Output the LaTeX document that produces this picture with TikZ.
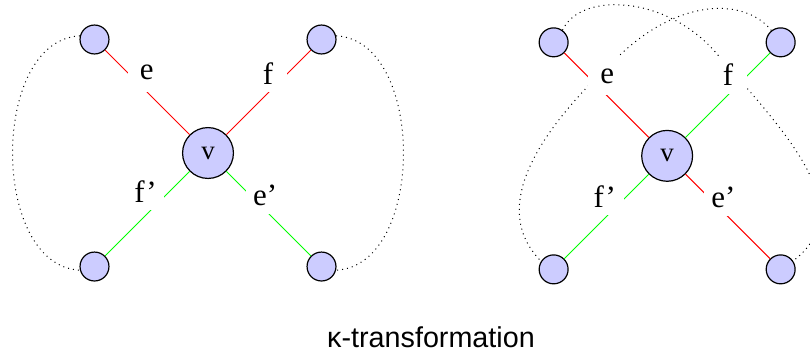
\documentclass[tikz,border=0pt]{standalone}
\usepackage{fontspec}
\setmainfont{Liberation Serif}
\newfontfamily\capfont{Liberation Sans}

\begin{document}
\begin{tikzpicture}[
  vtx/.style={circle, draw, line width=0.6pt, fill=blue!20, inner sep=0pt, minimum size=14.5pt},
  ctr/.style={vtx, minimum size=25.5pt, font=\fontsize{13.5}{15}\selectfont},
  lbl/.style={fill=white, text=black, inner sep=0pt, minimum size=19pt, font=\fontsize{15.5}{17}\selectfont},
  redge/.style={red, line width=0.5pt},
  gedge/.style={green, line width=0.5pt},
  loopline/.style={dotted, line width=0.5pt}
]
\useasboundingbox (-3.665,-3.577) rectangle (10.607,2.696);
\clip (-3.665,-3.577) rectangle (10.607,2.696);

% before
\node[ctr] (v1) at (0,0) {v};
\node[vtx] (nw1) at (-2,2) {};
\node[vtx] (ne1) at (2,2) {};
\node[vtx] (sw1) at (-2,-2) {};
\node[vtx] (se1) at (2,-2) {};

\draw[loopline] (nw1.166) .. controls (-3.84,1.99) and (-3.84,-1.99) .. (sw1.194);
\draw[loopline] (ne1.14) .. controls (3.84,1.99) and (3.84,-1.99) .. (se1.-14);

\draw[redge] (nw1) -- node[lbl, pos=.38, xshift=4.75pt, yshift=4.75pt] {e} (v1);
\draw[redge] (ne1) -- node[lbl, pos=.39, xshift=-5pt, yshift=5pt] {f} (v1);
\draw[gedge] (v1) -- node[lbl, pos=.38, xshift=-6pt, yshift=6pt] {f'} (sw1);
\draw[gedge] (v1) -- node[lbl, pos=.37, xshift=3.75pt, yshift=3.75pt] {e'} (se1);

% after
\begin{scope}[shift={(8.09,-0.05)}]
  \node[ctr] (v2) at (0,0) {v};
  \node[vtx] (nw2) at (-2,2) {};
  \node[vtx] (ne2) at (2,2) {};
  \node[vtx] (sw2) at (-2,-2) {};
  \node[vtx] (se2) at (2,-2) {};

  \draw[loopline] (ne2.128) .. controls (1.374,2.784) and (0.229,2.784) .. (-0.828,1.780)
    .. controls (-1.885,0.811) and (-3.295,-0.775) .. (sw2.147);
  \draw[loopline] (nw2.54) .. controls (-1.533,2.889) and (-0.035,2.837) .. (0.846,1.832)
    .. controls (2.123,0.375) and (3.401,-0.951) .. (se2.34);

  \draw[redge] (nw2) -- node[lbl, pos=.39, xshift=5pt, yshift=5pt] {e} (v2);
  \draw[gedge] (ne2) -- node[lbl, pos=.38, xshift=-5pt, yshift=5pt] {f} (v2);
  \draw[gedge] (v2) -- node[lbl, pos=.39, xshift=-5.5pt, yshift=5.5pt] {f'} (sw2);
  \draw[redge] (v2) -- node[lbl, pos=.36, xshift=3.75pt, yshift=3.75pt] {e'} (se2);
\end{scope}

\node[font=\capfont\fontsize{14.4}{17}\selectfont, anchor=base] (cap) at (3.929,-3.418) {κ-transformation};
\end{tikzpicture}
\end{document}
